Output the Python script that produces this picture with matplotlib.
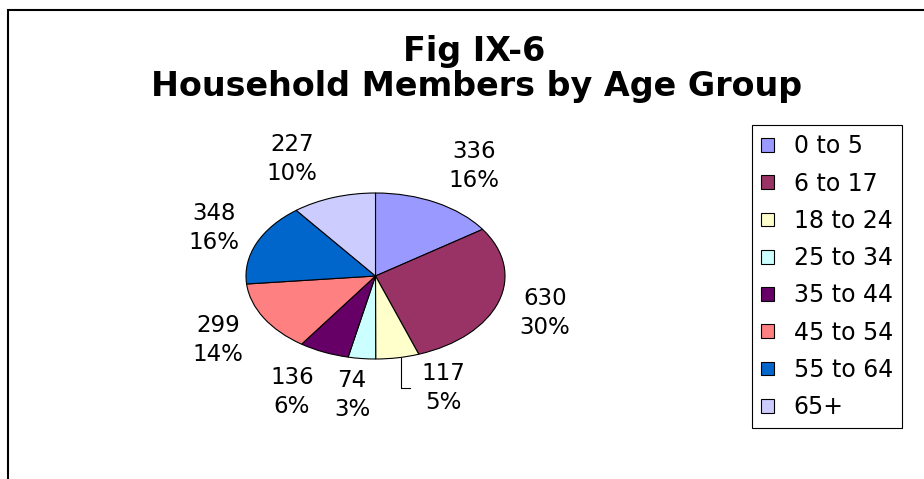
import matplotlib
matplotlib.use("Agg")
from matplotlib import pyplot as plt
from matplotlib.patches import Rectangle
from matplotlib.lines import Line2D

plt.rcParams["font.family"] = ["DejaVu Sans"]

age_groups = ["0 to 5", "6 to 17", "18 to 24", "25 to 34", "35 to 44", "45 to 54", "55 to 64", "65+"]
members = [336, 630, 117, 74, 136, 299, 348, 227]
percents = [16, 30, 5, 3, 6, 14, 16, 10]
colors = ["#9999FF", "#993366", "#FFFFCC", "#CCFFFF", "#660066", "#FF8080", "#0066CC", "#CCCCFF"]

W, H = 924, 479
# label block centres in pixels (layout only)
label_pos = [(474, 166), (545, 313), (443, 388), (352, 395), (292, 392), (218, 340), (214, 228), (292, 159)]


def fx(px):
    return px / W


def fy(py):
    return 1 - py / H


fig = plt.figure(figsize=(W / 100, H / 100), dpi=100)

# outer chart frame (cut off at right and bottom like the original)
fig.patches.append(Rectangle((fx(8), -0.1), 1.2, fy(9.5) + 0.1, transform=fig.transFigure,
                             fill=False, edgecolor="black", linewidth=1.5))

fig.text(fx(474), fy(61), "Fig IX-6", ha="center", va="baseline", fontsize=24, fontweight="bold")
fig.text(fx(477), fy(96), "Household Members by Age Group", ha="center", va="baseline",
         fontsize=24, fontweight="bold")

ax = fig.add_axes([fx(246), fy(359), fx(259), 166 / H])
wedges, _ = ax.pie(members, colors=colors, startangle=90, counterclock=False,
                   wedgeprops=dict(edgecolor="black", linewidth=0.8, clip_on=False))
ax.set_aspect("auto")
ax.set_xlim(-1, 1)
ax.set_ylim(-1, 1)
ax.axis("off")

for (px, py), v, p in zip(label_pos, members, percents):
    fig.text(fx(px), fy(py), f"{v}\n{p}%", ha="center", va="center", fontsize=16.5, linespacing=1.38)

# leader line for the 18 to 24 label
fig.add_artist(Line2D([fx(401), fx(401), fx(410)], [fy(358), fy(388), fy(388)],
                      transform=fig.transFigure, color="black", linewidth=0.8))

leg = fig.legend(wedges, age_groups, loc="upper left", bbox_to_anchor=(fx(752), fy(125)),
                 bbox_transform=fig.transFigure, borderaxespad=0, fontsize=17,
                 handlelength=0.52, handleheight=0.52, handletextpad=0.85, labelspacing=0.56,
                 borderpad=0.4, fancybox=False, framealpha=1)
leg.get_frame().set_edgecolor("black")
leg.get_frame().set_linewidth(0.8)

fig.savefig("out.png", dpi=100)
